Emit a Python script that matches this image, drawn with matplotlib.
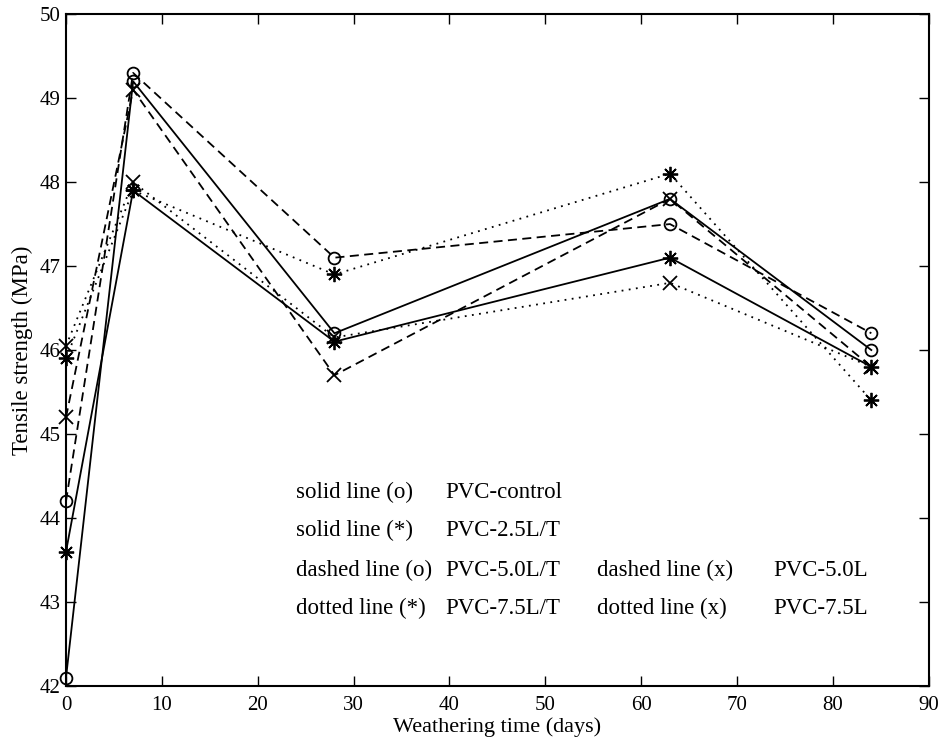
import matplotlib.pyplot as plt

plt.rcParams['font.family'] = ['Liberation Serif', 'DejaVu Serif']

days = [0, 7, 28, 63, 84]

pvc_control = [42.1, 49.2, 46.2, 47.8, 46.0]
pvc_25lt = [43.6, 47.9, 46.1, 47.1, 45.8]
pvc_50lt = [44.2, 49.3, 47.1, 47.5, 46.2]
pvc_50l = [45.2, 49.1, 45.7, 47.8, 45.8]
pvc_75lt = [45.9, 47.9, 46.9, 48.1, 45.4]
pvc_75l = [46.05, 48.0, 46.15, 46.8, 45.8]

xticks = [0, 10, 20, 30, 40, 50, 60, 70, 80, 90]
yticks = [42, 43, 44, 45, 46, 47, 48, 49, 50]

fig = plt.figure(figsize=(9.43, 7.44), dpi=100)
ax = fig.add_axes([0.070, 0.078, 0.915, 0.903])

asterisk = (8, 2, 0)
solid = '-'
dashed = (0, (5, 3))
dotted = (0, (1, 3))
kw = dict(color='black', lw=1.3, mfc='none', mec='black', mew=1.3, clip_on=False)

ax.plot(days, pvc_control, ls=solid, marker='o', ms=8.5, **kw)
ax.plot(days, pvc_25lt, ls=solid, marker=asterisk, ms=11, **kw)
ax.plot(days, pvc_50lt, ls=dashed, marker='o', ms=8.5, **kw)
ax.plot(days, pvc_50l, ls=dashed, marker='x', ms=9.5, **kw)
ax.plot(days, pvc_75lt, ls=dotted, marker=asterisk, ms=11, **kw)
ax.plot(days, pvc_75l, ls=dotted, marker='x', ms=9.5, **kw)

ax.set_xlim(0, 90)
ax.set_ylim(42, 50)
ax.set_xticks(xticks)
ax.set_yticks(yticks)
ax.tick_params(direction='in', length=7, width=1, top=True, right=True,
               labelsize=15)
ax.tick_params(axis='x', pad=7)
ax.tick_params(axis='y', pad=4)
for s in ax.spines.values():
    s.set_linewidth(1.5)

ax.set_xlabel('Weathering time (days)', fontsize=16, labelpad=2)
ax.set_ylabel('Tensile strength (MPa)', fontsize=16.5, labelpad=5)

legend_rows = [
    ('solid line (o)', 'PVC-control', '', ''),
    ('solid line (*)', 'PVC-2.5L/T', '', ''),
    ('dashed line (o)', 'PVC-5.0L/T', 'dashed line (x)', 'PVC-5.0L'),
    ('dotted line (*)', 'PVC-7.5L/T', 'dotted line (x)', 'PVC-7.5L'),
]
row_y = [44.3, 43.85, 43.38, 42.92]
col_x = [24.0, 39.6, 55.4, 73.8]
for yy, row in zip(row_y, legend_rows):
    for xx, txt in zip(col_x, row):
        if txt:
            ax.text(xx, yy, txt, fontsize=16.5, ha='left', va='center')

fig.savefig('out.png', dpi=100)
